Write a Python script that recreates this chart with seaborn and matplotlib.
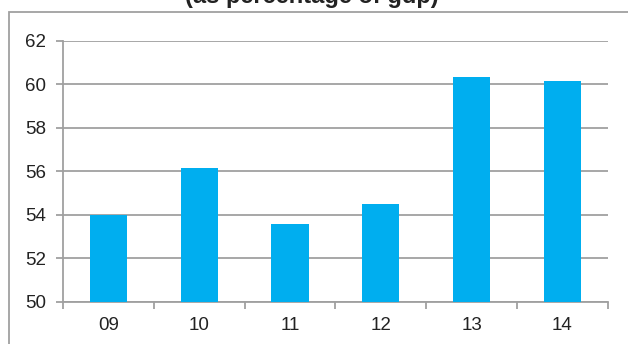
import matplotlib
matplotlib.use("Agg")
import matplotlib.pyplot as plt
import seaborn as sns
import pandas as pd
from matplotlib.patches import Rectangle
from matplotlib.ticker import FixedLocator

years = ["09", "10", "11", "12", "13", "14"]
values = [54.0, 56.15, 53.6, 54.5, 60.35, 60.15]
yticks = [50, 52, 54, 56, 58, 60, 62]
title = "(as percentage of gdp)"

sns.set_theme(style="white")
plt.rcParams['font.family'] = ['Liberation Sans', 'DejaVu Sans']

df = pd.DataFrame({"year": years, "value": values})

fig = plt.figure(figsize=(6.28, 3.44), dpi=100)
ax = fig.add_axes([63/628, 1-302/344, (607.7-63)/628, (302-41)/344])

sns.barplot(data=df, x="year", y="value", color="#00AEEF", saturation=1,
            width=0.41, linewidth=0, ax=ax, zorder=3)

gray = "#A0A0A0"
ax.set_ylim(50, 62)
ax.set_yticks(yticks)
ax.set_xlim(-0.5, len(years) - 0.5)
ax.yaxis.grid(True, color=gray, linewidth=1.3, zorder=0)
ax.set_axisbelow(True)
for s in ["top", "right"]:
    ax.spines[s].set_visible(False)
for s in ["left", "bottom"]:
    ax.spines[s].set_color(gray)
    ax.spines[s].set_linewidth(1.3)
ax.set_xlabel("")
ax.set_ylabel("")
ax.tick_params(axis="y", which="major", length=5, width=1.3, color=gray,
               labelsize=13.5, labelcolor="#222222", pad=7, left=True)
ax.tick_params(axis="x", which="major", length=0, labelsize=13.5,
               labelcolor="#222222", pad=11)
ax.xaxis.set_minor_locator(FixedLocator([i - 0.5 for i in range(len(years) + 1)]))
ax.tick_params(axis="x", which="minor", length=5, width=1.3, color=gray, bottom=True)

fig.text(311.5/628, 1 - 2.5/344, title, ha="center", va="baseline",
         fontsize=17, fontweight="bold", color="#222222")

fig.patches.append(Rectangle((8.7/628, -0.5), 2.0, 0.5 + (344-12)/344,
                             transform=fig.transFigure, fill=False,
                             edgecolor=gray, linewidth=1.3, zorder=-1))

fig.savefig("out.png", dpi=100)
